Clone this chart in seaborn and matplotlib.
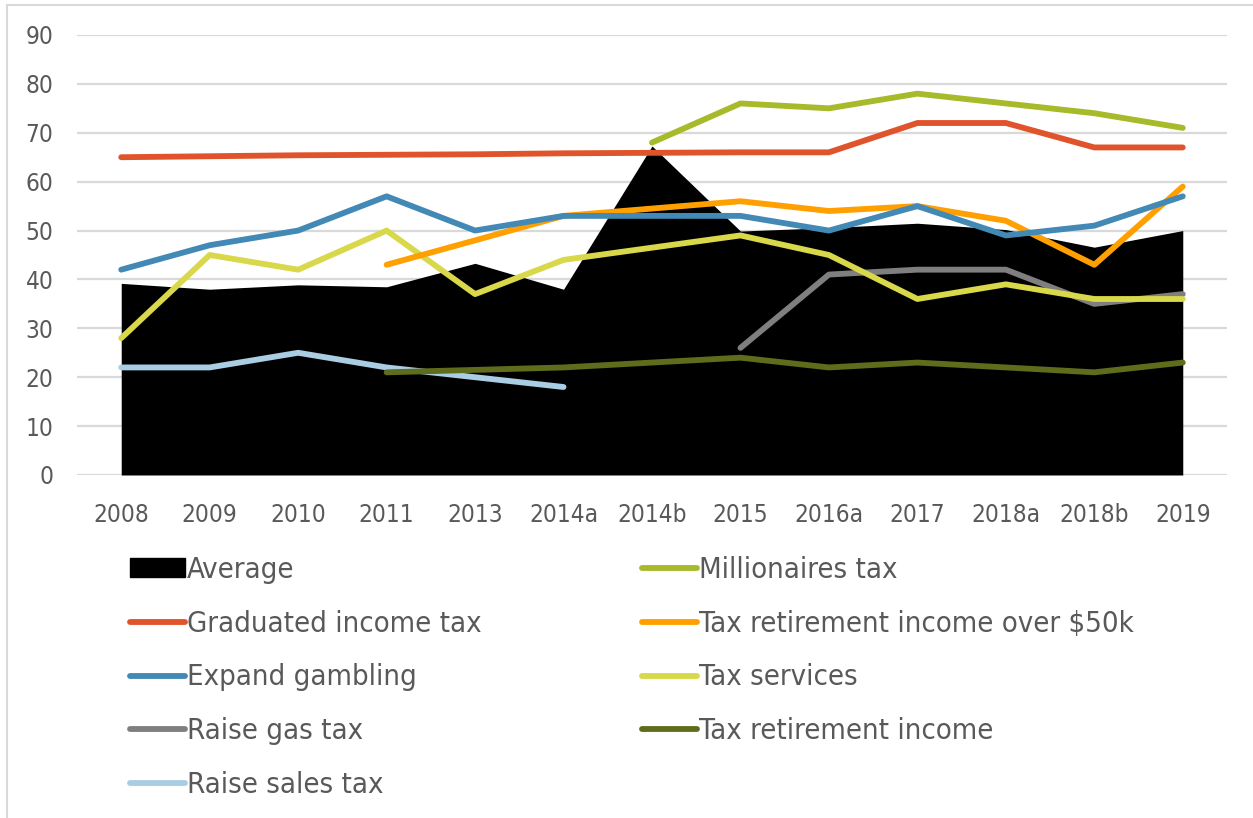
import numpy as np
import pandas as pd
import matplotlib
matplotlib.use("Agg")
import matplotlib.pyplot as plt
from matplotlib.lines import Line2D
from matplotlib.patches import Patch
import seaborn as sns

# Survey waves
waves = ["2008", "2009", "2010", "2011", "2013", "2014a", "2014b",
         "2015", "2016a", "2017", "2018a", "2018b", "2019"]

nan = np.nan
average = [39.2, 38.0, 38.9, 38.5, 43.3, 38.0, 67.3, 49.9, 50.6, 51.5, 50.2, 46.6, 50.0]
graduated_income_tax = [65.0, 65.2, 65.4, 65.5, 65.6, 65.8, 65.9, 66.0, 66.0, 72.0, 72.0, 67.0, 67.0]
expand_gambling = [42, 47, 50, 57, 50, 53, 53, 53, 50, 55, 49, 51, 57]
raise_gas_tax = [nan, nan, nan, nan, nan, nan, nan, 26, 41, 42, 42, 35, 37]
raise_sales_tax = [22, 22, 25, 22, 20, 18, nan, nan, nan, nan, nan, nan, nan]
millionaires_tax = [nan, nan, nan, nan, nan, nan, 68, 76, 75, 78, 76, 74, 71]
tax_retirement_over_50k = [nan, nan, nan, 43, 48, 53, 54.5, 56, 54, 55, 52, 43, 59]
tax_services = [28, 45, 42, 50, 37, 44, 46.5, 49, 45, 36, 39, 36, 36]
tax_retirement_income = [nan, nan, nan, 21, 21.5, 22, 23, 24, 22, 23, 22, 21, 23]

series = {
    "Graduated income tax": (graduated_income_tax, "#E0542B"),
    "Expand gambling": (expand_gambling, "#4389B5"),
    "Raise gas tax": (raise_gas_tax, "#7F7F7F"),
    "Raise sales tax": (raise_sales_tax, "#A9CDE3"),
    "Millionaires tax": (millionaires_tax, "#A6BA2A"),
    "Tax retirement income over $50k": (tax_retirement_over_50k, "#FFA000"),
    "Tax services": (tax_services, "#D8D84A"),
    "Tax retirement income": (tax_retirement_income, "#5F6C1B"),
}
draw_order = ["Raise sales tax", "Tax retirement income", "Raise gas tax",
              "Tax services", "Tax retirement income over $50k",
              "Expand gambling", "Millionaires tax", "Graduated income tax"]

sns.set_theme(style="white")
plt.rcParams["font.family"] = ["DejaVu Sans"]
plt.rcParams["font.stretch"] = "condensed"
text_color = "#595959"
grid_color = "#D9D9D9"

fig = plt.figure(figsize=(12.53, 8.18), dpi=100)
ax = fig.add_axes([77 / 1253, 1 - 475 / 818, 1150 / 1253, 440 / 818])

pos = np.arange(len(waves))
ax.fill_between(pos, average, 0, color="black", linewidth=0, zorder=2)

rows = []
for name, (vals, _) in series.items():
    for p, v in zip(pos, vals):
        rows.append({"pos": p, "value": v, "series": name})
long_df = pd.DataFrame(rows).dropna()
palette = {k: c for k, (_, c) in series.items()}

for name in draw_order:
    sub = long_df[long_df["series"] == name]
    sns.lineplot(data=sub, x="pos", y="value", color=palette[name],
                 linewidth=4.2, estimator=None, sort=False, ax=ax,
                 legend=False, solid_capstyle="round", zorder=3)

ax.set_xlim(-0.5, len(waves) - 0.5)
ax.set_ylim(0, 90)
ax.set_yticks(np.arange(0, 91, 10))
ax.set_xticks(pos)
ax.set_xticklabels(waves)
ax.set_xlabel("")
ax.set_ylabel("")
ax.grid(axis="y", color=grid_color, linewidth=1.6, zorder=0)
ax.set_axisbelow(True)
for s in ax.spines.values():
    s.set_visible(False)
ax.tick_params(axis="x", length=0, pad=20, labelsize=17.5, labelcolor=text_color)
ax.tick_params(axis="y", length=0, pad=17, labelsize=17.5, labelcolor=text_color)

handles = [Patch(facecolor="black", edgecolor="black", label="Average")]
for name in ["Graduated income tax", "Expand gambling", "Raise gas tax",
             "Raise sales tax", "Millionaires tax",
             "Tax retirement income over $50k", "Tax services",
             "Tax retirement income"]:
    handles.append(Line2D([0], [0], color=palette[name], linewidth=4.2,
                          solid_capstyle="round", label=name))

leg = fig.legend(handles=handles, ncol=2, loc="upper left",
                 bbox_to_anchor=(130 / 1253, 1 - 556 / 818),
                 frameon=False, fontsize=21, handlelength=1.9,
                 handleheight=0.6, handletextpad=0.05, columnspacing=5.5,
                 labelspacing=0.88, borderaxespad=0, borderpad=0)
for t in leg.get_texts():
    t.set_color(text_color)

# thin outer frame along the left and top edges
fig.add_artist(Line2D([7 / 1253, 7 / 1253], [0, 1 - 5 / 818],
                      transform=fig.transFigure, color=grid_color, linewidth=1.5))
fig.add_artist(Line2D([7 / 1253, 1], [1 - 5 / 818, 1 - 5 / 818],
                      transform=fig.transFigure, color=grid_color, linewidth=1.5))

fig.savefig("out.png", dpi=100, facecolor="white")
